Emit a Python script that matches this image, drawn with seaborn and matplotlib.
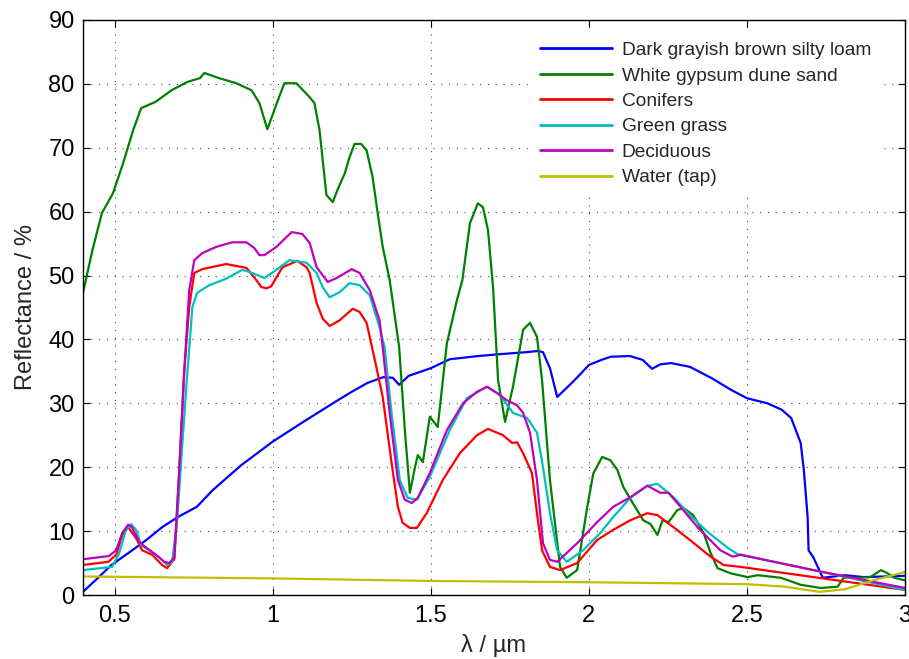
import numpy as np
import pandas as pd
import matplotlib
matplotlib.use("Agg")
import matplotlib.pyplot as plt
import seaborn as sns
from matplotlib.ticker import FormatStrFormatter

# reflectance spectra (wavelength in um, reflectance in %)
names = ["Dark grayish brown silty loam", "White gypsum dune sand", "Conifers",
         "Green grass", "Deciduous", "Water (tap)"]

loam_x = [0.40, 0.45, 0.49, 0.55, 0.60, 0.65, 0.70, 0.76, 0.81, 0.90, 1.00, 1.10, 1.20, 1.25,
          1.30, 1.35, 1.38, 1.40, 1.43, 1.50, 1.56, 1.65, 1.72, 1.80, 1.84, 1.855, 1.877, 1.90,
          1.94, 1.97, 2.00, 2.04, 2.07, 2.13, 2.17, 2.20, 2.226, 2.26, 2.32, 2.39, 2.45, 2.50,
          2.565, 2.61, 2.64, 2.67, 2.68, 2.692, 2.695, 2.71, 2.74, 2.81, 2.87, 3.0]
loam_y = [0.5, 2.8, 4.7, 6.8, 8.6, 10.6, 12.2, 13.8, 16.4, 20.3, 24.0, 27.2, 30.3, 31.8,
          33.2, 34.1, 34.0, 32.9, 34.3, 35.5, 36.9, 37.4, 37.7, 38.0, 38.2, 38.0, 35.5, 31.0,
          32.9, 34.4, 36.0, 36.8, 37.3, 37.4, 36.8, 35.4, 36.1, 36.3, 35.7, 33.9, 32.1, 30.8,
          30.0, 29.0, 27.7, 23.8, 19.6, 12.2, 7.0, 5.9, 2.7, 3.1, 2.8, 3.0]

gypsum_x = [0.40, 0.43, 0.46, 0.495, 0.527, 0.559, 0.584, 0.63, 0.68, 0.73, 0.77, 0.784, 0.83,
            0.885, 0.933, 0.958, 0.983, 1.02, 1.037, 1.075, 1.117, 1.132, 1.148, 1.17, 1.19,
            1.205, 1.228, 1.243, 1.259, 1.28, 1.297, 1.316, 1.332, 1.348, 1.37, 1.40, 1.418,
            1.434, 1.45, 1.459, 1.475, 1.497, 1.522, 1.551, 1.583, 1.60, 1.624, 1.649, 1.665,
            1.681, 1.697, 1.713, 1.735, 1.76, 1.792, 1.814, 1.836, 1.852, 1.877, 1.909, 1.93,
            1.963, 1.995, 2.014, 2.042, 2.068, 2.09, 2.109, 2.14, 2.172, 2.195, 2.217, 2.233,
            2.252, 2.28, 2.30, 2.33, 2.363, 2.385, 2.407, 2.448, 2.502, 2.534, 2.607, 2.67,
            2.733, 2.787, 2.806, 2.85, 2.89, 2.924, 2.945, 2.966, 3.0]
gypsum_y = [47.3, 54.0, 59.8, 62.9, 67.6, 72.8, 76.2, 77.2, 79.0, 80.3, 80.9, 81.7, 80.9,
            80.1, 79.0, 77.0, 72.9, 77.9, 80.1, 80.1, 77.9, 77.0, 72.8, 62.6, 61.5,
            63.4, 66.0, 68.5, 70.6, 70.6, 69.6, 65.4, 59.8, 54.5, 49.3, 38.8, 25.8,
            16.0, 20.0, 21.9, 20.8, 27.9, 26.3, 39.4, 46.2, 49.3, 58.2, 61.3, 60.7,
            57.1, 48.2, 33.6, 27.1, 32.6, 41.5, 42.6, 40.4, 33.6, 18.0, 4.4, 2.7,
            3.9, 13.8, 19.0, 21.6, 21.1, 19.6, 16.9, 14.3, 11.7, 11.1, 9.4, 11.7,
            11.4, 13.3, 13.6, 12.5, 9.7, 6.6, 4.2, 3.4, 2.8, 3.1, 2.7, 1.6,
            1.1, 1.3, 2.7, 2.7, 2.8, 3.9, 3.4, 2.7, 2.3]

conifer_x = [0.40, 0.48, 0.505, 0.524, 0.543, 0.568, 0.587, 0.619, 0.65, 0.666, 0.682, 0.689,
             0.704, 0.72, 0.736, 0.752, 0.777, 0.853, 0.917, 0.948, 0.964, 0.98, 0.995, 1.031,
             1.078, 1.107, 1.117, 1.139, 1.158, 1.18, 1.212, 1.253, 1.275, 1.297, 1.323, 1.348,
             1.376, 1.396, 1.411, 1.434, 1.456, 1.487, 1.538, 1.592, 1.646, 1.681, 1.71, 1.729,
             1.757, 1.773, 1.792, 1.82, 1.836, 1.852, 1.877, 1.909, 1.963, 2.026, 2.077, 2.131,
             2.185, 2.217, 2.268, 2.32, 2.385, 2.426, 2.48, 3.0]
conifer_y = [4.7, 5.2, 6.3, 9.4, 10.6, 8.9, 7.0, 6.3, 4.7, 4.2, 5.2, 5.6,
             19.0, 35.0, 45.1, 50.4, 51.0, 51.8, 51.2, 49.3, 48.2, 48.0, 48.3, 51.3,
             52.3, 51.3, 50.4, 45.7, 43.3, 42.1, 43.0, 44.8, 44.3, 42.6, 36.8, 31.0,
             20.7, 13.8, 11.3, 10.5, 10.5, 12.8, 18.0, 22.2, 25.0, 26.0, 25.4, 25.0,
             23.8, 23.9, 22.2, 19.1, 12.8, 7.0, 4.4, 3.9, 5.0, 8.6, 10.2, 11.7,
             12.8, 12.5, 10.6, 8.6, 6.0, 4.7, 4.4, 0.8]

grass_x = [0.40, 0.492, 0.514, 0.536, 0.552, 0.568, 0.584, 0.609, 0.641, 0.666, 0.682, 0.698,
           0.712, 0.726, 0.746, 0.761, 0.80, 0.853, 0.904, 0.936, 0.974, 1.012, 1.053, 1.107,
           1.139, 1.158, 1.18, 1.212, 1.243, 1.275, 1.307, 1.338, 1.354, 1.376, 1.402, 1.427,
           1.456, 1.497, 1.56, 1.614, 1.678, 1.719, 1.76, 1.805, 1.836, 1.855, 1.877, 1.90,
           1.93, 1.982, 2.036, 2.077, 2.131, 2.185, 2.217, 2.268, 2.32, 2.375, 2.439, 2.47,
           2.71, 3.0]
grass_y = [3.9, 4.4, 6.5, 10.2, 11.1, 10.2, 7.8, 7.0, 5.9, 4.7, 5.2, 11.7,
           22.0, 32.0, 45.1, 47.3, 48.5, 49.5, 50.9, 50.4, 49.6, 50.9, 52.4, 52.0,
           50.4, 48.2, 46.6, 47.4, 48.8, 48.5, 46.9, 41.9, 38.8, 28.5, 18.0, 15.2,
           14.9, 18.5, 25.8, 30.8, 32.6, 31.3, 28.5, 27.7, 25.4, 20.0, 12.8, 7.0,
           5.2, 7.0, 9.7, 12.2, 15.2, 17.1, 17.4, 15.3, 12.5, 9.9, 7.4, 6.4,
           3.9, 0.8]

decid_x = [0.40, 0.482, 0.505, 0.524, 0.543, 0.555, 0.578, 0.60, 0.631, 0.657, 0.673, 0.689,
           0.704, 0.72, 0.736, 0.752, 0.777, 0.822, 0.872, 0.917, 0.942, 0.958, 0.974, 1.012,
           1.06, 1.094, 1.117, 1.139, 1.174, 1.202, 1.25, 1.275, 1.307, 1.338, 1.348, 1.37,
           1.396, 1.418, 1.44, 1.459, 1.497, 1.551, 1.602, 1.646, 1.678, 1.71, 1.74, 1.773,
           1.792, 1.814, 1.836, 1.855, 1.877, 1.90, 1.963, 2.026, 2.077, 2.131, 2.185, 2.226,
           2.252, 2.29, 2.344, 2.416, 2.455, 2.48, 2.71, 3.0]
decid_y = [5.6, 6.1, 7.0, 9.7, 11.0, 10.6, 8.3, 7.4, 6.3, 5.2, 5.0, 5.9,
           19.1, 34.7, 47.7, 52.4, 53.5, 54.5, 55.2, 55.2, 54.3, 53.2, 53.2, 54.5,
           56.8, 56.5, 55.1, 51.3, 49.0, 49.6, 51.0, 50.4, 47.7, 43.0, 38.8, 28.5,
           18.0, 14.9, 14.4, 15.2, 19.1, 25.8, 30.0, 31.8, 32.6, 31.6, 30.5, 29.7,
           28.5, 25.4, 18.0, 8.1, 5.5, 5.2, 8.1, 11.4, 13.8, 15.3, 17.1, 16.0,
           16.0, 13.8, 10.6, 7.0, 6.0, 6.3, 3.9, 1.1]

water_x = [0.40, 1.0, 1.5, 2.0, 2.5, 2.62, 2.73, 2.81, 2.9, 3.0]
water_y = [2.9, 2.6, 2.2, 2.0, 1.7, 1.3, 0.5, 0.9, 2.3, 3.6]

colors = ["#0000ff", "#008000", "#ff0000", "#00bfbf", "#bf00bf", "#bfbf00"]

series = [(loam_x, loam_y), (gypsum_x, gypsum_y), (conifer_x, conifer_y),
          (grass_x, grass_y), (decid_x, decid_y), (water_x, water_y)]
frames = []
for name, (xs, ys) in zip(names, series):
    frames.append(pd.DataFrame({"wl": xs, "refl": ys, "sample": name}))
df = pd.concat(frames, ignore_index=True)

sns.set_style("ticks")
plt.rcParams["font.family"] = ["Liberation Sans", "DejaVu Sans"]

fig = plt.figure(figsize=(9.09, 6.59), dpi=100)
ax = fig.add_axes([0.0913, 0.0971, 0.9043, 0.8726])

sns.lineplot(data=df, x="wl", y="refl", hue="sample", hue_order=names,
             palette=dict(zip(names, colors)), estimator=None, sort=False,
             linewidth=1.6, ax=ax)

ax.set_xlim(0.4, 3.0)
ax.set_ylim(0, 90)
ax.set_xticks([0.5, 1, 1.5, 2, 2.5, 3])
ax.set_yticks(np.arange(0, 91, 10))
ax.xaxis.set_major_formatter(FormatStrFormatter("%g"))
ax.tick_params(direction="in", top=True, right=True, length=5, width=0.8,
               labelsize=17, colors="black")
ax.tick_params(axis="x", pad=7)
ax.tick_params(axis="y", pad=6)
ax.grid(True, linestyle=(0, (1, 6)), color="black", linewidth=0.8, alpha=0.7)
for s in ax.spines.values():
    s.set_visible(True)
    s.set_linewidth(1.0)
    s.set_color("black")

ax.set_xlabel("λ / µm", fontsize=17, labelpad=5)
ax.set_ylabel("Reflectance / %", fontsize=17, labelpad=8)

leg = ax.legend(loc="upper left", bbox_to_anchor=(532 / 909, 1 - 34 / 659),
                bbox_transform=fig.transFigure, fontsize=13.8,
                frameon=True, fancybox=False, edgecolor="white", framealpha=1,
                handlelength=3.75, handletextpad=0.52, labelspacing=0.42,
                borderaxespad=0, borderpad=0.4)
for line in leg.get_lines():
    line.set_linewidth(2.0)

fig.savefig("out.png", dpi=100)
